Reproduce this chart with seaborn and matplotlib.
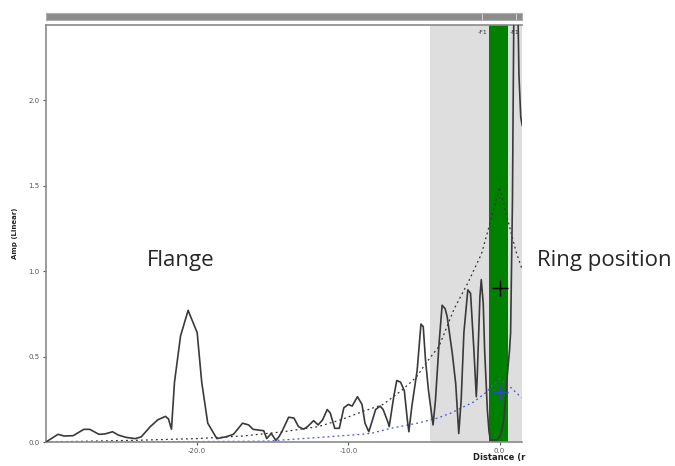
import matplotlib
matplotlib.use("Agg")
import matplotlib.pyplot as plt
import seaborn as sns
import numpy as np

# signal amplitude vs distance
dist = [-30.0, -29.2, -28.8, -28.2, -27.5, -27.1, -26.5, -26.1, -25.6, -25.2,
        -24.7, -24.1, -23.7, -23.1, -22.6, -22.1, -21.9, -21.7, -21.5, -21.1,
        -20.6, -20.0, -19.7, -19.3, -18.7, -18.1, -17.6, -17.0, -16.6, -16.3,
        -15.6, -15.4, -15.1, -14.8, -14.6, -14.4, -13.95, -13.6, -13.3, -12.96,
        -12.7, -12.3, -12.0, -11.7, -11.4, -11.2, -10.9, -10.6, -10.3, -10.0,
        -9.75, -9.4, -9.1, -8.9, -8.65, -8.4, -8.2, -7.9, -7.7, -7.4,
        -7.3, -7.0, -6.8, -6.55, -6.3, -6.1, -6.0, -5.8, -5.45, -5.2,
        -5.05, -4.9, -4.7, -4.4, -4.24, -4.0, -3.8, -3.6, -3.46, -3.13,
        -2.9, -2.7, -2.54, -2.36, -2.1, -1.92, -1.7, -1.54, -1.48, -1.3,
        -1.21, -1.08, -0.99, -0.81, -0.7, -0.6, -0.15, 0.07, 0.28, 0.5,
        0.66, 0.73, 0.85, 0.95, 1.2, 1.28, 1.4, 1.5]
amp = [0.0, 0.045, 0.035, 0.037, 0.074, 0.074, 0.045, 0.047, 0.06, 0.04,
       0.027, 0.02, 0.03, 0.09, 0.13, 0.15, 0.135, 0.075, 0.35, 0.62,
       0.77, 0.64, 0.35, 0.11, 0.02, 0.03, 0.045, 0.11, 0.10, 0.074,
       0.066, 0.02, 0.05, 0.01, 0.03, 0.06, 0.145, 0.14, 0.09, 0.075,
       0.09, 0.125, 0.10, 0.13, 0.19, 0.17, 0.08, 0.08, 0.20, 0.22,
       0.21, 0.265, 0.22, 0.11, 0.06, 0.13, 0.19, 0.21, 0.19, 0.12,
       0.09, 0.265, 0.36, 0.35, 0.30, 0.13, 0.06, 0.21, 0.42, 0.69,
       0.675, 0.48, 0.30, 0.10, 0.245, 0.58, 0.80, 0.78, 0.73, 0.52,
       0.34, 0.05, 0.245, 0.64, 0.89, 0.87, 0.54, 0.265, 0.38, 0.85,
       0.95, 0.81, 0.54, 0.19, 0.06, 0.012, 0.012, 0.04, 0.13, 0.38,
       0.54, 0.64, 1.4, 2.6, 2.6, 2.15, 1.9, 1.85]

# black dotted envelope
env_x = [-30.0, -24.0, -20.0, -17.0, -14.3, -12.0, -10.5, -9.0, -7.7, -6.5,
         -5.5, -4.8, -4.0, -3.0, -2.1, -1.2, -0.6, 0.0, 0.6, 1.1, 1.45]
env_y = [0.0, 0.01, 0.02, 0.035, 0.06, 0.09, 0.13, 0.18, 0.22, 0.30,
         0.38, 0.47, 0.56, 0.78, 0.93, 1.10, 1.29, 1.49, 1.28, 1.11, 1.02]

# blue dotted envelope
blue_x = [-24.6, -15.4, -13.0, -11.4, -9.9, -8.5, -7.2, -5.45, -4.1, -3.2,
          -1.7, -0.9, 0.0, 0.6, 1.45]
blue_y = [0.0, 0.005, 0.02, 0.03, 0.04, 0.05, 0.08, 0.11, 0.14, 0.17,
          0.235, 0.29, 0.37, 0.33, 0.26]

# markers at the ring position
mark_x = [0.0, 0.0]
mark_y = [0.9, 0.29]
mark_c = ["black", "#3344cc"]

gate = (-4.6, 1.45)
ring = (-0.68, 0.58)

yticks = [0.0, 0.5, 1.0, 1.5, 2.0]
xticks = [-20.0, -10.0, 0.0]

fig = plt.figure(figsize=(6.75, 4.66), dpi=100)
sns.set_style("white")
ax = fig.add_axes([0.0681, 0.0515, 0.7045, 0.895])

ax.axvspan(*gate, color="#dedede", lw=0, zorder=0)
ax.axvspan(*ring, color="#008000", lw=0, zorder=1)

sns.lineplot(x=dist, y=amp, ax=ax, sort=False, estimator=None,
             color="#3a3a3a", lw=1.2, zorder=3)
sns.lineplot(x=env_x, y=env_y, ax=ax, sort=False, estimator=None,
             color="#333333", lw=0.9, linestyle=(0, (1.5, 2.5)), zorder=2)
sns.lineplot(x=blue_x, y=blue_y, ax=ax, sort=False, estimator=None,
             color="#4455dd", lw=0.9, linestyle=(0, (1.5, 2.5)), zorder=2)
for mx, my, mc in zip(mark_x, mark_y, mark_c):
    ax.plot(mx, my, marker="+", ms=11, mew=1.0, color=mc, zorder=4)

ax.set_xlim(-30.0, 1.45)
ax.set_ylim(0, 2.44)
ax.set_xticks(xticks)
ax.set_xticklabels([f"{t:.1f}" for t in xticks])
ax.set_yticks(yticks)
ax.set_yticklabels([f"{t:.1f}" for t in yticks])
ax.tick_params(labelsize=5, colors="#555555", length=2.5, width=0.8,
               direction="out", left=True, bottom=True, pad=2)
for s in ax.spines.values():
    s.set_color("#8a8a8a")
    s.set_linewidth(1.2)
ax.spines["right"].set_visible(False)

ax.set_ylabel("Amp (Linear)", fontsize=5, fontweight="bold", labelpad=9)
ax.yaxis.set_label_coords(-0.058, 0.5)
ax.text(0.0, -0.026, "Distance (r", transform=ax.get_xaxis_transform(),
        fontsize=6, fontweight="bold", ha="center", va="top", color="#222222")

ax.text(ring[0] - 0.15, 2.41, "-F1", fontsize=4.5, color="#334", ha="right", va="top")
ax.text(ring[1] + 0.1, 2.41, "-F1", fontsize=4.5, color="#334", ha="left", va="top",
        clip_on=True)

# overview bar on top
bar = fig.add_axes([0.0681, 0.957, 0.7045, 0.015])
bar.set_facecolor("#8c8c8c")
bar.set_xlim(-30.0, 1.45)
bar.set_xticks([])
bar.set_yticks([])
for xv in [-1.15, 1.06]:
    bar.axvline(xv, color="#cfcfcf", lw=0.8)
for s in bar.spines.values():
    s.set_color("#b0b0b0")

fig.text(0.267, 0.442, "Flange", fontsize=16, family="Open Sans", ha="center", va="center")
fig.text(0.895, 0.442, "Ring position", fontsize=16, family="Open Sans", ha="center", va="center")

fig.savefig("out.png", dpi=100)
